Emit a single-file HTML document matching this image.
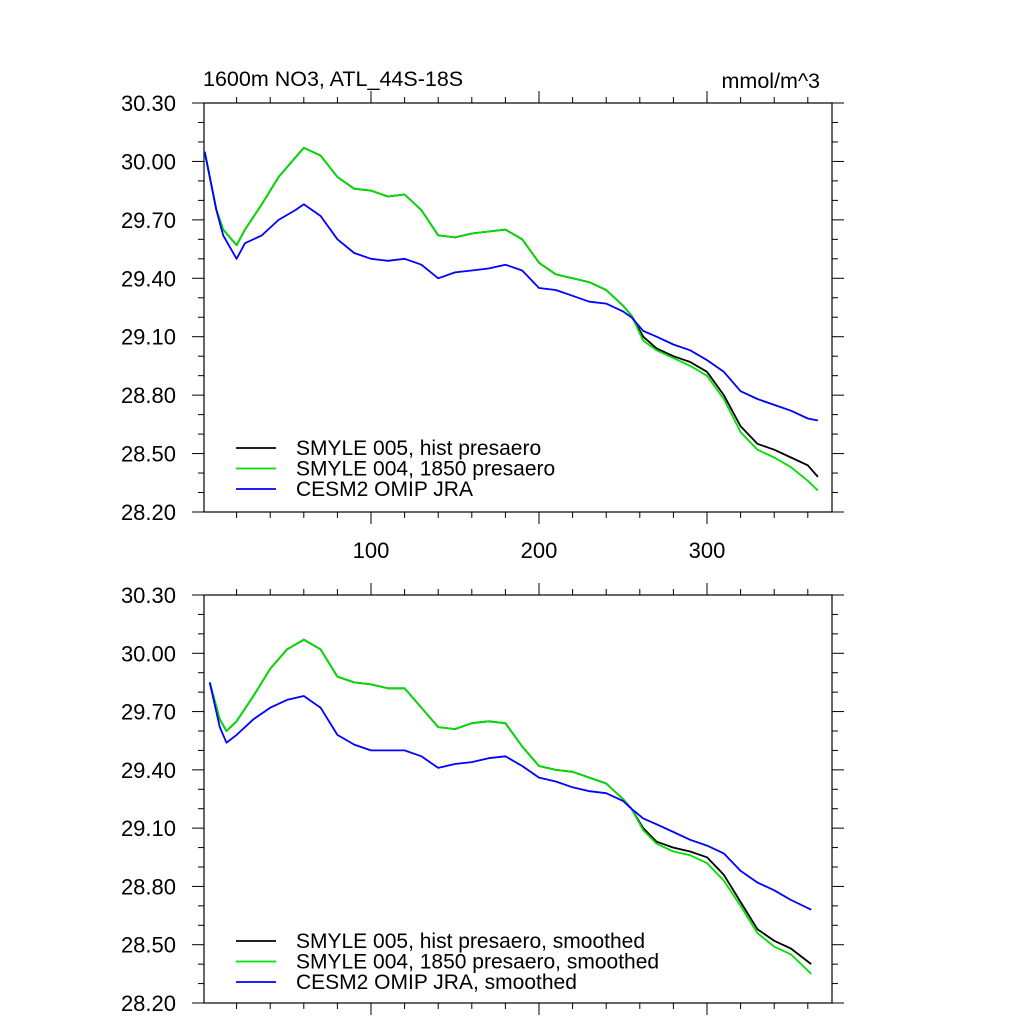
<!DOCTYPE html>
<html><head><meta charset="utf-8"><style>
html,body{margin:0;padding:0;background:#fff;}
svg text{font-family:"Liberation Sans",sans-serif;fill:#000;}
</style></head><body>
<svg id="chart" width="1024" height="1024" xmlns="http://www.w3.org/2000/svg">
<text x="203" y="86" font-size="21.5">1600m NO3, ATL_44S-18S</text>
<text x="820" y="88" font-size="21.5" text-anchor="end">mmol/m^3</text>
<g id="panels"></g>
</svg>
<script>
const xTop = [1,8,12,20,25,35,45,55,60,70,80,90,100,110,120,130,140,150,160,170,180,190,200,210,220,230,240,250,255,262,270,280,290,300,310,320,330,340,350,360,366];
const greenTop = [30.05,29.75,29.65,29.57,29.65,29.78,29.92,30.02,30.07,30.03,29.92,29.86,29.85,29.82,29.83,29.75,29.62,29.61,29.63,29.64,29.65,29.60,29.48,29.42,29.40,29.38,29.34,29.26,29.21,29.08,29.03,28.99,28.95,28.90,28.78,28.61,28.52,28.48,28.43,28.36,28.31];
const blackTop = [30.05,29.75,29.65,29.57,29.65,29.78,29.92,30.02,30.07,30.03,29.92,29.86,29.85,29.82,29.83,29.75,29.62,29.61,29.63,29.64,29.65,29.60,29.48,29.42,29.40,29.38,29.34,29.26,29.21,29.10,29.04,29.00,28.97,28.92,28.80,28.64,28.55,28.52,28.48,28.44,28.38];
const blueTop = [30.05,29.75,29.62,29.50,29.58,29.62,29.70,29.75,29.78,29.72,29.60,29.53,29.50,29.49,29.50,29.47,29.40,29.43,29.44,29.45,29.47,29.44,29.35,29.34,29.31,29.28,29.27,29.23,29.20,29.13,29.10,29.06,29.03,28.98,28.92,28.82,28.78,28.75,28.72,28.68,28.67];
const xBot = [4,10,14,20,30,40,50,60,70,80,90,100,110,120,130,140,150,160,170,180,190,200,210,220,230,240,250,255,262,270,280,290,300,310,320,330,340,350,362];
const blackBot = [29.85,29.66,29.60,29.65,29.78,29.92,30.02,30.07,30.02,29.88,29.85,29.84,29.82,29.82,29.72,29.62,29.61,29.64,29.65,29.64,29.52,29.42,29.40,29.39,29.36,29.33,29.25,29.20,29.10,29.03,29.00,28.98,28.95,28.86,28.72,28.58,28.52,28.48,28.40];
const greenBot = [29.85,29.66,29.60,29.65,29.78,29.92,30.02,30.07,30.02,29.88,29.85,29.84,29.82,29.82,29.72,29.62,29.61,29.64,29.65,29.64,29.52,29.42,29.40,29.39,29.36,29.33,29.25,29.20,29.09,29.02,28.98,28.96,28.92,28.83,28.70,28.56,28.49,28.45,28.35];
const blueBot = [29.85,29.62,29.54,29.58,29.66,29.72,29.76,29.78,29.72,29.58,29.53,29.50,29.50,29.50,29.47,29.41,29.43,29.44,29.46,29.47,29.42,29.36,29.34,29.31,29.29,29.28,29.24,29.20,29.15,29.12,29.08,29.04,29.01,28.97,28.88,28.82,28.78,28.73,28.68];
const yTickLabels = ["30.30","30.00","29.70","29.40","29.10","28.80","28.50","28.20"];
const xTickLabels = ["100","200","300"];
const legendTop = ["SMYLE 005, hist presaero","SMYLE 004, 1850 presaero","CESM2 OMIP JRA"];
const legendBot = ["SMYLE 005, hist presaero, smoothed","SMYLE 004, 1850 presaero, smoothed","CESM2 OMIP JRA, smoothed"];
const colors = ["#000000","#00e000","#0000ff"];

const NS="http://www.w3.org/2000/svg";
const g=document.getElementById('panels');
function mk(tag,attrs,parent){const e=document.createElementNS(NS,tag);for(const k in attrs)e.setAttribute(k,attrs[k]);(parent||g).appendChild(e);return e;}
const X0=203, PX=1.68, XL=204, XR=832, YMIN=28.2, YMAX=30.3;
function xs(v){return X0+v*PX;}
function panel(top,bottom,series,xsArr,legend,legY,showX,name){
  const grp=mk('g',{});
  
  
  const ys=v=>bottom-(v-YMIN)/(YMAX-YMIN)*(bottom-top);
  const frame=mk('rect',{x:XL,y:top,width:XR-XL,height:bottom-top,fill:'none',stroke:'#000','stroke-width':1.2},grp);
  
  
  for(let i=0;i<=21;i++){
    const v=YMIN+i*0.1, y=ys(v), maj=i%3===0, L=maj?12:6;
    mk('line',{x1:XL-L,x2:XL,y1:y,y2:y,stroke:'#000','stroke-width':1},grp);
    mk('line',{x1:XR,x2:XR+L,y1:y,y2:y,stroke:'#000','stroke-width':1},grp);
  }
  yTickLabels.forEach((t,i)=>{
    const v=YMAX-i*0.3;
    const tx=mk('text',{x:176,y:ys(v)+8,'font-size':22,'text-anchor':'end'},grp);
    tx.textContent=t;
    
    
  });
  for(let v=20;v<=360;v+=20){
    const x=xs(v), maj=v%100===0, L=maj?12:6;
    mk('line',{x1:x,x2:x,y1:top-L,y2:top,stroke:'#000','stroke-width':1},grp);
    mk('line',{x1:x,x2:x,y1:bottom,y2:bottom+L,stroke:'#000','stroke-width':1},grp);
  }
  if(showX){xTickLabels.forEach(t=>{
    const tx=mk('text',{x:xs(+t),y:bottom+46,'font-size':22,'text-anchor':'middle'},grp);
    tx.textContent=t;
    
    
  });}
  const order=[0,1,2];
  order.forEach(i=>{
    const d=series[i];
    const pts=d.map((v,j)=>xs(xsArr[j]).toFixed(1)+','+ys(v).toFixed(1)).join(' ');
    const pl=mk('polyline',{points:pts,fill:'none',stroke:colors[i],'stroke-width':1.8,'stroke-linejoin':'round'},grp);
    
    
  });
  legend.forEach((t,i)=>{
    const y=legY+i*20.5;
    const ln=mk('line',{x1:236,x2:276,y1:y,y2:y,stroke:colors[i],'stroke-width':1.8},grp);
    
    
    const tx=mk('text',{x:296,y:y+7,'font-size':21},grp);
    tx.textContent=t;
    
    
  });
}
panel(103,512,[blackTop,greenTop,blueTop],xTop,legendTop,448,true,'top-panel');
panel(595,1003,[blackBot,greenBot,blueBot],xBot,legendBot,941,false,'bottom-panel');
</script>
</body></html>
